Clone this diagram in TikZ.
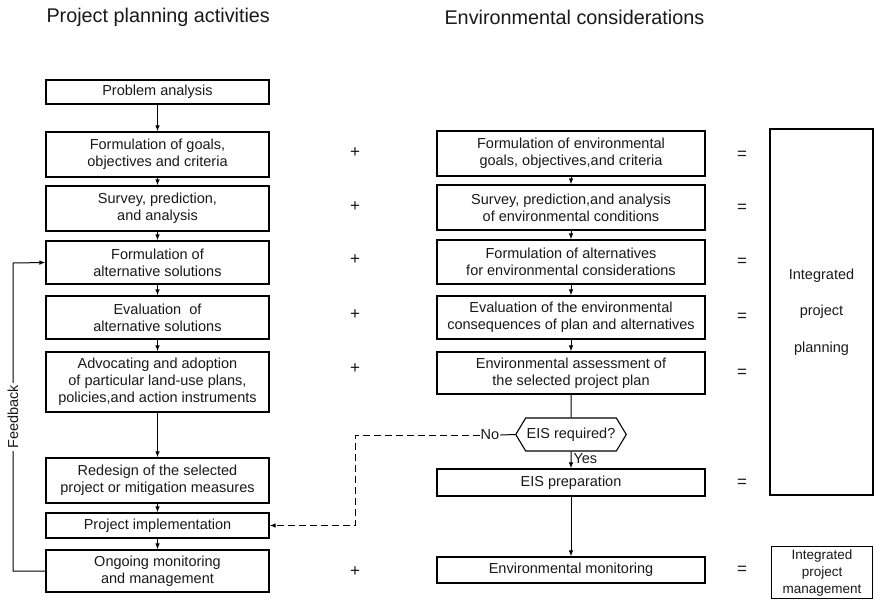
\documentclass[tikz,border=0pt]{standalone}
\usepackage{fontspec}
\setmainfont{Liberation Sans}
\usetikzlibrary{arrows.meta,shapes.symbols}
\begin{document}
\begin{tikzpicture}[x=1pt,y=-1pt,
  every node/.style={font=\fontsize{14.5}{17}\selectfont, text=black!90},
  stepbox/.style={draw, line width=1.2pt, align=center, inner sep=0pt},
  lbox/.style={stepbox, minimum width=223pt},
  ebox/.style={stepbox, minimum width=268pt},
  link/.style={line width=1pt},
  arr/.style={link, -{Latex[length=6pt,width=4.5pt]}},
  sign/.style={font=\fontsize{17}{17}\selectfont},
  head/.style={font=\fontsize{19.8}{22}\selectfont, anchor=west}
]
\useasboundingbox (0,0) rectangle (874,600);

% column headings
\node[head] (h1) at (43,17) {Project planning activities};
\node[head] (h2) at (441,17) {Environmental considerations};

% project planning steps
\node[lbox, minimum height=24pt] (pa) at (157.5,92) {Problem analysis};
\node[lbox, minimum height=45pt] (lg) at (157.5,154.5) {Formulation of goals,\\objectives and criteria};
\node[lbox, minimum height=45pt] (ls) at (157.5,208.5) {Survey, prediction,\\and analysis};
\node[lbox, minimum height=43pt] (lf) at (157.5,262.5) {Formulation of\\alternative solutions};
\node[lbox, minimum height=43pt] (le) at (157.5,317.5) {Evaluation\ \ of\\alternative solutions};
\node[lbox, minimum height=60pt] (la) at (157.5,382) {Advocating and adoption\\of particular land-use plans,\\policies,and action instruments};
\node[lbox, minimum height=45pt] (lr) at (157.5,480.5) {Redesign of the selected\\project or mitigation measures};
\node[lbox, minimum height=25pt] (lp) at (157.5,525.5) {Project implementation};
\node[lbox, minimum height=42pt] (lo) at (157.5,571) {Ongoing monitoring\\and management};

% environmental steps
\node[ebox, minimum height=45pt] (eg) at (571,153.5) {Formulation of environmental\\goals, objectives,and criteria};
\node[ebox, minimum height=45pt] (es) at (571,207.5) {Survey, prediction,and analysis\\of environmental conditions};
\node[ebox, minimum height=44pt] (ef) at (571,262) {Formulation of alternatives\\for environmental considerations};
\node[ebox, minimum height=43pt] (ee) at (571,317.5) {Evaluation of the environmental\\consequences of plan and alternatives};
\node[ebox, minimum height=42pt] (ea) at (571,373) {Environmental assessment of\\the selected project plan};
\node[draw, line width=1.1pt, signal, signal to=east and west, signal pointer angle=118,
      minimum width=108pt, minimum height=33pt, inner sep=1pt] (eis) at (571,434.5) {EIS required?};
\node[ebox, minimum height=27pt] (ep) at (571,482.5) {EIS preparation};
\node[ebox, minimum height=26pt] (em) at (571,570) {Environmental monitoring};

% integrated results
\node[stepbox, minimum width=103pt, minimum height=366pt, font=\fontsize{14.5}{36.5}\selectfont]
  (ip) at (821.5,312) {Integrated\\project\\planning};
\node[stepbox, minimum width=101pt, minimum height=52pt, font=\fontsize{13.5}{17}\selectfont]
  (im) at (822,572.5) {Integrated\\project\\management};

% plus signs
\foreach \n/\y in {1/153,2/207,3/260,4/315,5/369,6/572}
  \node[sign] (plus\n) at (355,\y) {+};
% equals signs
\foreach \n/\y in {1/155,2/208,3/262,4/317,5/373,6/483,7/570}
  \node[sign] (eq\n) at (742,\y) {=};

% planning sequence
\draw[arr] (pa) -- (lg);
\draw[arr] (lg) -- (ls);
\draw[arr] (ls) -- (lf);
\draw[arr] (lf) -- (le);
\draw[arr] (le) -- (la);
\draw[arr] (la) -- (lr);
\draw[arr] (lr) -- (lp);
\draw[arr] (lp) -- (lo);

% environmental sequence
\draw[arr] (eg) -- (es);
\draw[arr] (es) -- (ef);
\draw[arr] (ef) -- (ee);
\draw[arr] (ee) -- (ea);
\draw[link] (ea) -- (eis);
\draw[arr] (eis) -- node[right, inner sep=2pt, pos=0.4] (yes) {Yes} (ep);
\draw[arr] (ep) -- (em);

% no-EIS branch back to implementation
\node[inner sep=1pt] (no) at (490,435) {No};
\draw[link] (eis.west) -- (no.east);
\coordinate (nocorner) at (355.5,435);
\draw[arr, dashed, dash pattern=on 7pt off 4pt] (no.west) -- (nocorner) |- (lp.east);

% feedback loop
\coordinate (fbbot) at (13,571);
\coordinate (fbtop) at (13,263);
\draw[arr] (lo.west) -- (fbbot) -- node[fill=white, rotate=90, inner sep=2pt] (fb) {Feedback} (fbtop) -- (lf.west);
\end{tikzpicture}
\end{document}
